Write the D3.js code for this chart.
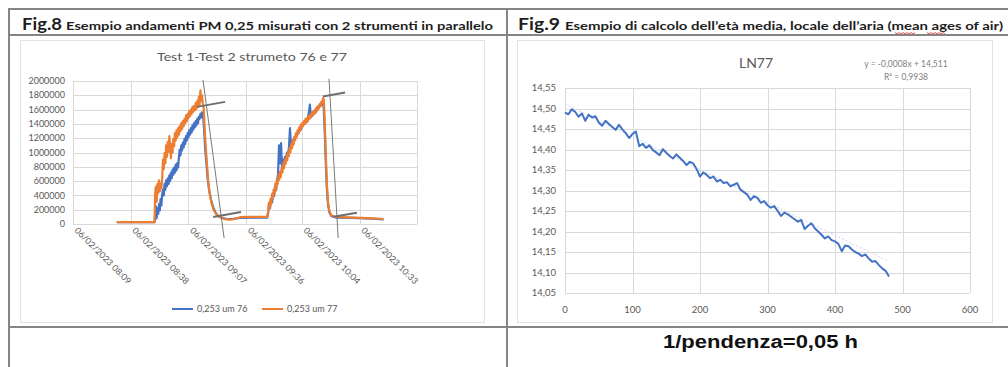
<!DOCTYPE html>
<html><head><meta charset="utf-8">
<script src="https://cdn.jsdelivr.net/npm/d3@7"></script>
<style>
body{margin:0;background:#fff}
svg{display:block}
text{font-family:Lato,"Open Sans",sans-serif}
</style>
</head><body>
<svg id="c" width="1008" height="367"></svg>
<script>
// ---------- Fig.8: PM 0,25 counts, two instruments in parallel ----------
// time in minutes after 06/02/2023 08:09
const dateTickMinutes = [0, 29, 58, 87, 115, 144];
const dateTickLabels = ["06/02/2023 08:09", "06/02/2023 08:38", "06/02/2023 09:07",
                        "06/02/2023 09:36", "06/02/2023 10:04", "06/02/2023 10:33"];
const dateAxisEnd = 172.8;
const countTicks = [0, 200000, 400000, 600000, 800000, 1000000, 1200000, 1400000, 1600000, 1800000, 2000000];
const countTickLabels = ["0", "200000", "400000", "600000", "800000", "1000000", "1200000", "1400000", "1600000", "1800000", "2000000"];

const t76 = [22, 40.6, 41.0, 41.2, 41.6, 42.0, 42.4, 42.8, 43.2, 43.6, 44.0, 44.4, 44.8, 45.2, 45.6, 46.0, 46.4, 46.8, 47.2, 47.6, 48.0, 48.4, 48.8, 49.2, 49.6, 50.0, 50.4, 50.8, 51.2, 51.6, 52.0, 52.4, 52.8, 53.2, 53.6, 54.0, 54.4, 54.8, 55.2, 55.6, 56.0, 56.4, 56.8, 57.2, 57.6, 58.0, 58.4, 58.8, 59.2, 59.6, 60.0, 60.4, 60.8, 61.2, 61.6, 62.0, 62.4, 62.8, 63.2, 63.6, 64.0, 64.4, 64.8, 65.3, 65.8, 66.4, 67.0, 67.6, 68.4, 69.4, 70.4, 71.6, 73.0, 75.0, 77.0, 80.0, 84.0, 90.0, 97.6,
  98.0, 98.5, 99.0, 99.5, 100.0, 100.5, 101.0, 101.5, 102.0, 102.5, 103.0, 103.5, 104.0, 104.5, 105.0, 105.5, 106.0, 106.5, 107.0, 107.5, 108.0, 108.5, 109.0, 109.5, 110.0, 110.5, 111.0, 111.5, 112.0, 112.5, 113.0, 113.5, 114.0, 114.5, 115.0, 115.5, 116.0, 116.5, 117.0, 117.5, 118.0, 118.5, 119.0, 119.5, 120.0, 120.5, 121.0, 121.5, 122.0, 122.5, 123.0, 123.5, 124.0, 124.5, 125.0, 125.5, 126.0, 126.5, 127.0, 127.5, 128.1, 128.8, 129.8, 132.0, 140.0, 150.0, 156.0];
const v76 = [25000, 25000, 25000, 120000, 250000, 80000, 220000, 140000, 280000, 190000, 350000, 260000, 420000, 480000, 400000, 560000, 480000, 610000, 530000, 640000, 560000, 680000, 600000, 720000, 640000, 760000, 690000, 790000, 720000, 830000, 750000, 850000, 790000, 930000, 1040000, 960000, 1100000, 1030000, 1140000, 1070000, 1190000, 1120000, 1230000, 1170000, 1270000, 1210000, 1310000, 1250000, 1340000, 1280000, 1380000, 1320000, 1410000, 1350000, 1440000, 1380000, 1470000, 1410000, 1500000, 1470000, 1540000, 1490000, 1560000, 1540000, 1350000, 1050000, 850000, 640000, 470000, 330000, 240000, 160000, 110000, 85000, 70000, 70000, 85000, 90000, 90000,
  150000, 280000, 220000, 340000, 300000, 430000, 390000, 520000, 470000, 610000, 700000, 1100000, 850000, 1130000, 800000, 900000, 860000, 940000, 900000, 1000000, 960000, 1080000, 1340000, 1100000, 1150000, 1120000, 1200000, 1180000, 1250000, 1230000, 1300000, 1280000, 1340000, 1320000, 1380000, 1370000, 1420000, 1400000, 1450000, 1430000, 1490000, 1560000, 1670000, 1500000, 1530000, 1520000, 1570000, 1550000, 1600000, 1590000, 1640000, 1620000, 1670000, 1660000, 1700000, 1720000, 1600000, 1250000, 850000, 500000, 280000, 160000, 110000, 90000, 85000, 75000, 65000];

const t77 = [22, 30, 40.6, 41.0, 41.2, 41.6, 42.0, 42.4, 42.8, 43.2, 43.6, 44.0, 44.4, 44.8, 45.2, 45.6, 46.0, 46.4, 46.8, 47.2, 47.6, 48.0, 48.4, 48.8, 49.2, 49.6, 50.0, 50.4, 50.8, 51.2, 51.6, 52.0, 52.4, 52.8, 53.2, 53.6, 54.0, 54.4, 54.8, 55.2, 55.6, 56.0, 56.4, 56.8, 57.2, 57.6, 58.0, 58.4, 58.8, 59.2, 59.6, 60.0, 60.4, 60.8, 61.2, 61.6, 62.0, 62.4, 62.8, 63.2, 63.6, 64.0, 64.4, 64.8, 65.2, 65.6, 66.2, 66.8, 67.4, 68.0, 68.8, 69.6, 70.6, 71.6, 73.0, 74.5, 76.0, 78.0, 80.0, 82.0, 84.0, 88.0, 93.0, 97.6,
  98.0, 98.4, 98.8, 99.2, 99.6, 100.0, 100.4, 100.8, 101.2, 101.6, 102.0, 102.4, 102.8, 103.2, 103.6, 104.0, 104.4, 104.8, 105.2, 105.6, 106.0, 106.4, 106.8, 107.2, 107.6, 108.0, 108.4, 108.8, 109.2, 109.6, 110.0, 110.4, 110.8, 111.2, 111.6, 112.0, 112.4, 112.8, 113.2, 113.6, 114.0, 114.4, 114.8, 115.2, 115.6, 116.0, 116.4, 116.8, 117.2, 117.6, 118.0, 118.4, 118.8, 119.2, 119.6, 120.0, 120.4, 120.8, 121.2, 121.6, 122.0, 122.4, 122.8, 123.2, 123.6, 124.0, 124.4, 124.8, 125.2, 125.6, 126.0, 126.5, 127.0, 127.5, 128.1, 128.8, 129.8, 131.5, 135.0, 140.0, 145.0, 150.0, 156.0];
const v77 = [25000, 25000, 25000, 25000, 400000, 520000, 310000, 560000, 430000, 610000, 460000, 560000, 500000, 640000, 900000, 770000, 990000, 850000, 1100000, 940000, 1150000, 1010000, 1230000, 1080000, 920000, 1120000, 1000000, 1190000, 1090000, 1270000, 1170000, 1310000, 1210000, 1340000, 1250000, 1370000, 1300000, 1410000, 1330000, 1440000, 1370000, 1470000, 1410000, 1520000, 1440000, 1540000, 1480000, 1580000, 1510000, 1600000, 1540000, 1640000, 1570000, 1650000, 1590000, 1690000, 1610000, 1720000, 1640000, 1780000, 1670000, 1870000, 1720000, 1800000, 1690000, 1640000, 1300000, 1030000, 800000, 570000, 400000, 290000, 200000, 150000, 110000, 85000, 70000, 60000, 65000, 80000, 95000, 100000, 100000, 100000,
  170000, 300000, 220000, 350000, 290000, 420000, 360000, 480000, 420000, 560000, 480000, 620000, 560000, 690000, 620000, 730000, 660000, 790000, 720000, 850000, 780000, 900000, 840000, 960000, 890000, 1010000, 950000, 1070000, 1000000, 1120000, 1060000, 1180000, 1110000, 1220000, 1170000, 1270000, 1220000, 1310000, 1260000, 1350000, 1300000, 1390000, 1340000, 1410000, 1370000, 1440000, 1400000, 1470000, 1420000, 1480000, 1440000, 1510000, 1470000, 1530000, 1490000, 1560000, 1520000, 1580000, 1540000, 1600000, 1560000, 1630000, 1590000, 1650000, 1620000, 1680000, 1650000, 1710000, 1690000, 1760000, 1740000, 1400000, 980000, 580000, 310000, 180000, 120000, 100000, 95000, 90000, 85000, 80000, 70000];

// construction lines: [t1, v1, t2, v2]
const tangentLines = [
  [65.3, 2016000, 75.9, -196000],
  [62.3, 1638000, 76.4, 1708000],
  [70.4, 98000, 84.4, 168000],
  [128.6, 2030000, 133.2, -196000],
  [125.5, 1782000, 136.7, 1838000],
  [130.8, 102000, 142.6, 158000]
];
const tangentWidths = [1, 2, 2, 1, 2, 2];

const seriesNames = ["0,253 um 76", "0,253 um 77"];
const seriesColors = ["#4472c4", "#ed7d31"];

// ---------- Fig.9: ln(concentration) decay, LN77 ----------
const decayX = [0, 5, 10, 15, 20, 25, 30, 35, 40, 45, 50, 55, 60, 65, 70, 75, 80, 85, 90, 95, 100, 105, 110, 115, 120, 125, 130, 135, 140, 145, 150, 155, 160, 165, 170, 175, 180, 185, 190, 195, 200, 205, 210, 215, 220, 225, 230, 235, 240, 245, 250, 255, 260, 265, 270, 275, 280, 285, 290, 295, 300, 305, 310, 315, 320, 325, 330, 335, 340, 345, 350, 355, 360, 365, 370, 375, 380, 385, 390, 395, 400, 405, 410, 415, 420, 425, 430, 435, 440, 445, 450, 455, 460, 465, 470, 475, 480];
const decayLn = [14.490, 14.486, 14.498, 14.492, 14.480, 14.488, 14.470, 14.485, 14.478, 14.481, 14.466, 14.458, 14.470, 14.462, 14.455, 14.448, 14.460, 14.449, 14.440, 14.428, 14.438, 14.444, 14.408, 14.414, 14.404, 14.410, 14.399, 14.393, 14.386, 14.401, 14.392, 14.384, 14.378, 14.388, 14.380, 14.372, 14.362, 14.370, 14.366, 14.352, 14.334, 14.344, 14.338, 14.330, 14.334, 14.322, 14.326, 14.318, 14.320, 14.310, 14.314, 14.318, 14.302, 14.296, 14.290, 14.277, 14.286, 14.282, 14.270, 14.274, 14.264, 14.258, 14.262, 14.250, 14.238, 14.246, 14.242, 14.236, 14.230, 14.224, 14.228, 14.206, 14.214, 14.220, 14.208, 14.200, 14.192, 14.183, 14.188, 14.179, 14.176, 14.170, 14.152, 14.166, 14.164, 14.156, 14.150, 14.146, 14.140, 14.144, 14.134, 14.126, 14.128, 14.118, 14.110, 14.104, 14.090];
const lnTicks = [14.05, 14.10, 14.15, 14.20, 14.25, 14.30, 14.35, 14.40, 14.45, 14.50, 14.55];
const lnTickLabels = ["14,05", "14,10", "14,15", "14,20", "14,25", "14,30", "14,35", "14,40", "14,45", "14,50", "14,55"];
const xTicks2 = [0, 100, 200, 300, 400, 500, 600];
const trendCoef = [-0.0008, 14.511];   // slope, intercept
const trendLabel = ["y = -0,0008x + 14,511", "R² = 0,9938"];

const svg = d3.select("#c");
const ink = "#595959", grid = "#d9d9d9";

// ---------- table frame ----------
const rule = svg.append("g").attr("stroke", "#858585").attr("stroke-width", 2);
[[9, 9, 1008, 9], [9, 35, 1008, 35], [9, 327, 1008, 327], [9, 8, 9, 367], [507, 8, 507, 367]]
  .forEach(d => rule.append("line").attr("x1", d[0]).attr("y1", d[1]).attr("x2", d[2]).attr("y2", d[3]));

function header(x, label, rest, restX, wFig, wRest) {
  svg.append("text").attr("x", x).attr("y", 30).attr("font-size", 17).attr("font-weight", 700)
    .attr("fill", "#1e1e1e").attr("textLength", wFig).attr("lengthAdjust", "spacingAndGlyphs").text(label);
  svg.append("text").attr("x", restX).attr("y", 30).attr("font-size", 11.5).attr("font-weight", 700)
    .attr("fill", "#1e1e1e").attr("textLength", wRest).attr("lengthAdjust", "spacingAndGlyphs").text(rest);
}
header(22, "Fig.8", "Esempio andamenti PM 0,25 misurati con 2 strumenti in parallelo", 66, 40, 427);
header(518, "Fig.9", "Esempio di calcolo dell’età media, locale dell’aria (mean ages of air)", 565, 42, 438);

// spell-check squiggles under the English words
[[895, 916], [927, 946]].forEach(([a, b]) => {
  const pts = d3.range(a, b + 0.1, 2).map((px, i) => [px, 33 + (i % 2 ? 1 : -0.5)]);
  svg.append("path").attr("d", d3.line()(pts)).attr("fill", "none").attr("stroke", "#e05a4e").attr("stroke-width", 1);
});

// chart frames
svg.append("rect").attr("x", 20.5).attr("y", 40.5).attr("width", 464).attr("height", 282)
  .attr("fill", "none").attr("stroke", "#e3e3e3");
svg.append("rect").attr("x", 517.5).attr("y", 40.5).attr("width", 475).attr("height", 282)
  .attr("fill", "none").attr("stroke", "#e3e3e3");

// ---------- Fig.8 chart ----------
const g1 = svg.append("g");
const x1 = d3.scaleLinear().domain([0, dateAxisEnd]).range([73, 417]);
const y1 = d3.scaleLinear().domain([0, 2000000]).range([224, 81]);

g1.selectAll(".hg").data(countTicks).join("line")
  .attr("x1", x1(0)).attr("x2", x1(dateAxisEnd))
  .attr("y1", d => Math.round(y1(d)) + 0.5).attr("y2", d => Math.round(y1(d)) + 0.5)
  .attr("stroke", grid);
g1.selectAll(".vg").data(dateTickMinutes.concat([dateAxisEnd])).join("line")
  .attr("x1", d => Math.round(x1(d)) + 0.5).attr("x2", d => Math.round(x1(d)) + 0.5)
  .attr("y1", y1(2000000)).attr("y2", y1(0))
  .attr("stroke", grid);

g1.selectAll(".yl").data(countTicks).join("text")
  .attr("x", 65).attr("y", d => y1(d)).attr("dy", "0.35em").attr("text-anchor", "end")
  .attr("font-size", 9).attr("fill", ink).text((d, i) => countTickLabels[i]);

g1.selectAll(".xl").data(dateTickMinutes).join("text")
  .attr("transform", d => `translate(${x1(d) + 1},${231}) rotate(45)`)
  .attr("font-size", 8.6).attr("fill", ink).attr("textLength", 76).attr("lengthAdjust", "spacingAndGlyphs")
  .text((d, i) => dateTickLabels[i]);

g1.append("text").attr("x", 252).attr("y", 61).attr("text-anchor", "middle")
  .attr("font-size", 12).attr("fill", ink).attr("textLength", 190).attr("lengthAdjust", "spacingAndGlyphs")
  .text("Test 1-Test 2 strumeto 76 e 77");

const line1 = (ts, vs) => d3.line().x((d, i) => x1(ts[i])).y(d => y1(d))(vs);
g1.append("path").attr("d", line1(t76, v76)).attr("fill", "none")
  .attr("stroke", seriesColors[0]).attr("stroke-width", 2.2).attr("stroke-linejoin", "round");
g1.append("path").attr("d", line1(t77, v77)).attr("fill", "none")
  .attr("stroke", seriesColors[1]).attr("stroke-width", 2.2).attr("stroke-linejoin", "round");

g1.selectAll(".tg").data(tangentLines).join("line")
  .attr("x1", d => x1(d[0])).attr("y1", d => y1(d[1]))
  .attr("x2", d => x1(d[2])).attr("y2", d => y1(d[3]))
  .attr("stroke", (d, i) => tangentWidths[i] > 1 ? "#6e6e6e" : "#7a7a7a")
  .attr("stroke-width", (d, i) => tangentWidths[i]);

// legend
const legend = g1.append("g").attr("transform", "translate(172,309)");
seriesNames.forEach((name, i) => {
  const lg = legend.append("g").attr("transform", `translate(${i * 90},0)`);
  lg.append("line").attr("x1", 0).attr("x2", 21).attr("stroke", seriesColors[i]).attr("stroke-width", 2);
  lg.append("text").attr("x", 25).attr("dy", "0.35em").attr("font-size", 9).attr("fill", ink).text(name);
});

// ---------- Fig.9 chart ----------
const g2 = svg.append("g");
const x2 = d3.scaleLinear().domain([0, 600]).range([565, 970]);
const y2 = d3.scaleLinear().domain([14.05, 14.55]).range([293, 88]);

g2.selectAll(".hg").data(lnTicks).join("line")
  .attr("x1", x2(0)).attr("x2", x2(600))
  .attr("y1", d => Math.round(y2(d)) + 0.5).attr("y2", d => Math.round(y2(d)) + 0.5)
  .attr("stroke", grid);
g2.selectAll(".vg").data(xTicks2).join("line")
  .attr("x1", d => Math.round(x2(d)) + 0.5).attr("x2", d => Math.round(x2(d)) + 0.5)
  .attr("y1", y2(14.55)).attr("y2", y2(14.05))
  .attr("stroke", grid);

g2.selectAll(".yl").data(lnTicks).join("text")
  .attr("x", 556).attr("y", d => y2(d)).attr("dy", "0.35em").attr("text-anchor", "end")
  .attr("font-size", 9.5).attr("fill", ink).text((d, i) => lnTickLabels[i]);
g2.selectAll(".xl").data(xTicks2).join("text")
  .attr("x", d => x2(d)).attr("y", 313).attr("text-anchor", "middle")
  .attr("font-size", 9.5).attr("fill", ink).text(d => d);

g2.append("text").attr("x", 756).attr("y", 68).attr("text-anchor", "middle")
  .attr("font-size", 14).attr("fill", ink).text("LN77");
trendLabel.forEach((s, i) => g2.append("text").attr("x", 906).attr("y", 67 + i * 13)
  .attr("text-anchor", "middle").attr("font-size", 8.5).attr("fill", "#7f7f7f").text(s));

// linear trend (faint, dotted) under the measured series
const xEnd = decayX[decayX.length - 1];
g2.append("line")
  .attr("x1", x2(0)).attr("y1", y2(trendCoef[1]))
  .attr("x2", x2(xEnd)).attr("y2", y2(trendCoef[0] * xEnd + trendCoef[1]))
  .attr("stroke", "#c9d7ef").attr("stroke-width", 1).attr("stroke-dasharray", "2,2");

g2.append("path")
  .attr("d", d3.line().x((d, i) => x2(decayX[i])).y(d => y2(d))(decayLn))
  .attr("fill", "none").attr("stroke", "#4472c4").attr("stroke-width", 2).attr("stroke-linejoin", "round");

// result line in the cell below
svg.append("text").attr("x", 663).attr("y", 348)
  .style("font-family", "'Liberation Sans', Arial, sans-serif")
  .attr("font-size", 18).attr("font-weight", 700).attr("fill", "#111")
  .attr("textLength", 195).attr("lengthAdjust", "spacingAndGlyphs")
  .text("1/pendenza=0,05 h");
</script>
</body></html>
